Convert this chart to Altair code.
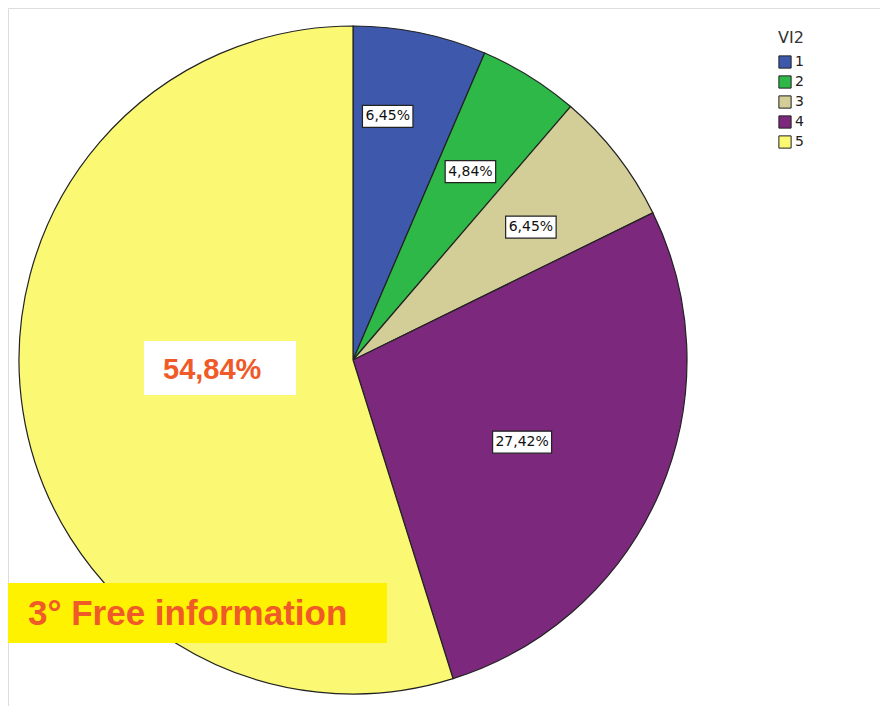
import altair as alt
import pandas as pd

categories = ["1", "2", "3", "4", "5"]
percents = [6.45, 4.84, 6.45, 27.42, 54.84]
labels = ["6,45%", "4,84%", "6,45%", "27,42%", "54,84%"]
colors = ["#3e58ac", "#2eb848", "#d3ce97", "#7c287d", "#fbf873"]
legend_title = "VI2"
big_label = "54,84%"
note_text = "3° Free information"

df = pd.DataFrame({"cat": categories, "pct": percents, "label": labels})

W, H = 872, 698
CX, CY, R = 345, 352, 334

base = alt.Chart(df)

pie = base.mark_arc(stroke="#222222", strokeWidth=1.2, radius=R).encode(
    theta=alt.Theta("pct:Q", stack=True),
    color=alt.Color(
        "cat:N",
        scale=alt.Scale(domain=categories, range=colors),
        legend=alt.Legend(
            title=legend_title,
            orient="none",
            legendX=770,
            legendY=22,
            symbolType="square",
            symbolSize=150,
            symbolStrokeColor="#222222",
            symbolStrokeWidth=1,
            symbolOpacity=1,
            labelFontSize=14,
            labelFont="DejaVu Sans",
            labelColor="#222222",
            labelOffset=3,
            titleFontSize=16,
            titleFont="DejaVu Sans",
            titleFontWeight="normal",
            titleColor="#333333",
            titlePadding=9,
            rowPadding=2,
        ),
    ),
    order=alt.Order("cat:N"),
    x=alt.value(CX),
    y=alt.value(CY),
)

label_base = (
    base.transform_joinaggregate(total="sum(pct)")
    .transform_window(cum="sum(pct)", sort=[alt.SortField("cat")], frame=[None, 0])
    .transform_filter("datum.cat != '5'")
    .transform_calculate(
        mid="(datum.cum - datum.pct/2) / datum.total * 2 * PI"
        " + (datum.cat == '1' ? -3.5 : datum.cat == '4' ? 2.7 : datum.cat == '3' ? 1 : 0) * PI / 180",
        lr="datum.cat == '1' ? 246 : datum.cat == '4' ? 188 : 222",
    )
    .transform_calculate(
        lx=f"{CX} + datum.lr * sin(datum.mid)",
        ly=f"{CY} - datum.lr * cos(datum.mid)",
        bw="length(datum.label) * 8.5 + 8",
    )
    .transform_calculate(
        x1="datum.lx - datum.bw/2",
        x2="datum.lx + datum.bw/2",
        y1="datum.ly - 11",
        y2="datum.ly + 11",
    )
)

boxes = label_base.mark_rect(fill="white", stroke="#222222", strokeWidth=1.2).encode(
    x=alt.X("x1:Q", scale=None),
    x2="x2:Q",
    y=alt.Y("y1:Q", scale=None),
    y2="y2:Q",
)

texts = label_base.mark_text(
    font="DejaVu Sans", fontSize=14, color="#111111", align="center", baseline="middle"
).encode(
    x=alt.X("lx:Q", scale=None),
    y=alt.Y("ly:Q", scale=None),
    text="label:N",
)

ann = alt.Chart(pd.DataFrame({"t": [big_label], "n": [note_text]}))

big_box = ann.mark_rect(fill="white").encode(
    x=alt.value(136), x2=alt.value(288), y=alt.value(333), y2=alt.value(387)
)
big_text = ann.mark_text(
    font="Liberation Sans", fontSize=29, fontWeight="bold", color="#f05a28",
    align="left", baseline="alphabetic",
).encode(x=alt.value(155), y=alt.value(371), text="t:N")

note_box = ann.mark_rect(fill="#fff200").encode(
    x=alt.value(0), x2=alt.value(379), y=alt.value(575), y2=alt.value(635)
)
note_text_mark = ann.mark_text(
    font="Liberation Sans", fontSize=35, fontWeight="bold", color="#f05a28",
    align="left", baseline="alphabetic",
).encode(x=alt.value(20), y=alt.value(617), text="n:N")

chart = (
    alt.layer(pie, boxes, texts, big_box, big_text, note_box, note_text_mark)
    .properties(width=W, height=H, autosize="none", padding=0)
    .configure_view(stroke="transparent", strokeWidth=0)
    .configure(background="white")
)

chart.save("out.html", embed_options={"renderer": "svg", "actions": False})
